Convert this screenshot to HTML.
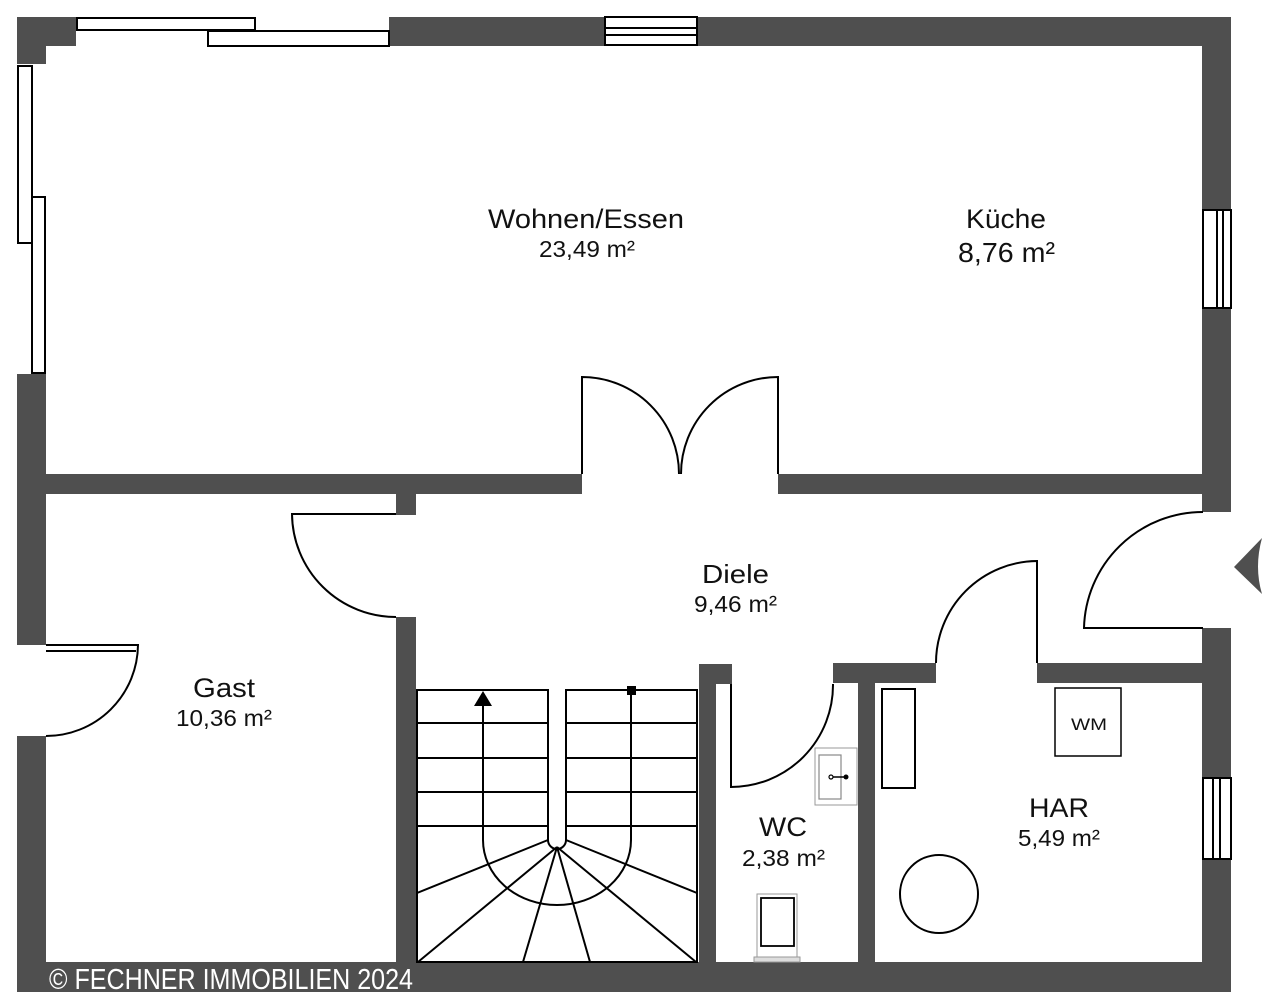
<!DOCTYPE html>
<html><head><meta charset="utf-8"><style>html,body{margin:0;padding:0;background:#fff}svg{display:block}</style></head>
<body>
<svg width="1280" height="1005" viewBox="0 0 1280 1005" xmlns="http://www.w3.org/2000/svg" font-family="Liberation Sans, Arial, sans-serif">
<g fill="#4f4f4f">
<rect x="17" y="17" width="59" height="29"/>
<rect x="17" y="17" width="29" height="47"/>
<rect x="389" y="17" width="842" height="29"/>
<rect x="1202" y="17" width="29" height="495"/>
<rect x="1202" y="628" width="29" height="364"/>
<rect x="17" y="374" width="29" height="271"/>
<rect x="17" y="736" width="29" height="256"/>
<rect x="17" y="962" width="1214" height="30"/>
<rect x="17" y="474" width="565" height="20"/>
<rect x="778" y="474" width="453" height="20"/>
<rect x="396" y="494" width="20" height="21"/>
<rect x="396" y="617" width="20" height="345"/>
<rect x="699" y="664" width="17" height="298"/>
<rect x="699" y="664" width="33" height="20"/>
<rect x="833" y="663" width="103" height="20"/>
<rect x="858" y="663" width="17" height="299"/>
<rect x="1037" y="663" width="166" height="20"/>
<path d="M1234 567 L1262 538 Q1254 567 1262 594 Z"/>
</g>
<g fill="#fff" stroke="#000" stroke-width="2">
<rect x="77" y="18" width="178" height="12"/>
<rect x="208" y="31" width="181" height="15"/>
<rect x="18" y="66" width="14" height="177"/>
<rect x="32" y="197" width="13" height="176"/>
<rect x="605" y="17" width="92" height="28"/>
<rect x="1203" y="210" width="28" height="98"/>
<rect x="1203" y="778" width="28" height="81"/>
</g>
<g fill="none" stroke="#000" stroke-width="2">
<line x1="605" y1="28" x2="697" y2="28"/><line x1="605" y1="35" x2="697" y2="35"/>
<line x1="1217" y1="210" x2="1217" y2="308"/><line x1="1223" y1="210" x2="1223" y2="308"/>
<line x1="1213" y1="778" x2="1213" y2="859"/><line x1="1220" y1="778" x2="1220" y2="859"/>
<path d="M582 474 V377 A97 97 0 0 1 679 474"/>
<path d="M778 474 V377 A97 97 0 0 0 681 474"/>
<path d="M396 514 H292 A104 104 0 0 0 396 617"/>
<path d="M46 645 H138 A92 92 0 0 1 46 736"/>
<line x1="46" y1="651" x2="136" y2="651"/>
<path d="M731 684 V787 A102 102 0 0 0 833 684"/>
<path d="M1037 663 V561 A102 102 0 0 0 936 663"/>
<path d="M1203 628 H1084 A119 119 0 0 1 1203 512"/>
<path d="M548 840 V690 H417 V962 H697 V690 H566 V840 A9 9 0 0 1 548 840"/>
<g stroke-width="2">
<line x1="417" y1="723" x2="548" y2="723"/><line x1="417" y1="758" x2="548" y2="758"/><line x1="417" y1="792" x2="548" y2="792"/><line x1="417" y1="826" x2="548" y2="826"/>
<line x1="566" y1="723" x2="697" y2="723"/><line x1="566" y1="758" x2="697" y2="758"/><line x1="566" y1="792" x2="697" y2="792"/><line x1="566" y1="826" x2="697" y2="826"/>
<line x1="548" y1="840" x2="417" y2="893"/><line x1="566" y1="840" x2="697" y2="893"/>
<line x1="557" y1="847" x2="418" y2="962"/><line x1="557" y1="847" x2="523" y2="962"/>
<line x1="557" y1="847" x2="590" y2="962"/><line x1="557" y1="847" x2="696" y2="962"/>
</g>
<path d="M483 700 V840 A74 65 0 0 0 631 840 V690"/>
<rect x="882" y="689" width="33" height="99"/>
<rect x="1055" y="688" width="66" height="68" stroke-width="1.5"/>
<circle cx="939" cy="894" r="39"/>
</g>
<path d="M483 691 L474 706 L492 706 Z" fill="#000"/>
<rect x="627" y="686" width="9" height="9" fill="#000"/>
<rect x="815" y="748" width="42" height="57" fill="#fff" stroke="#999" stroke-width="1"/>
<rect x="819" y="755" width="22" height="44" fill="none" stroke="#888" stroke-width="1.2"/>
<line x1="831" y1="777" x2="846" y2="777" stroke="#000" stroke-width="1.5"/>
<circle cx="831" cy="777" r="2" fill="#fff" stroke="#000" stroke-width="1.2"/><circle cx="846" cy="777" r="2.5" fill="#000"/>
<rect x="757" y="894" width="40" height="68" fill="#fff" stroke="#999" stroke-width="1"/>
<rect x="761" y="898" width="33" height="48" fill="none" stroke="#000" stroke-width="1.8"/>
<rect x="754" y="957" width="46" height="5" fill="#ddd" stroke="#999" stroke-width="1"/>
<g fill="#111" text-anchor="start">
<text x="488" y="228" font-size="27" textLength="196" lengthAdjust="spacingAndGlyphs">Wohnen/Essen</text>
<text x="539" y="257" font-size="23" textLength="96" lengthAdjust="spacingAndGlyphs">23,49 m²</text>
<text x="966" y="228" font-size="27" textLength="80" lengthAdjust="spacingAndGlyphs">Küche</text>
<text x="958" y="262" font-size="28" textLength="97" lengthAdjust="spacingAndGlyphs">8,76 m²</text>
<text x="702" y="583" font-size="26" textLength="67" lengthAdjust="spacingAndGlyphs">Diele</text>
<text x="694" y="612" font-size="23" textLength="83" lengthAdjust="spacingAndGlyphs">9,46 m²</text>
<text x="193" y="697" font-size="27" textLength="62" lengthAdjust="spacingAndGlyphs">Gast</text>
<text x="176" y="726" font-size="23" textLength="96" lengthAdjust="spacingAndGlyphs">10,36 m²</text>
<text x="759" y="836" font-size="27" textLength="48" lengthAdjust="spacingAndGlyphs">WC</text>
<text x="742" y="866" font-size="23" textLength="83" lengthAdjust="spacingAndGlyphs">2,38 m²</text>
<text x="1029" y="817" font-size="27" textLength="60" lengthAdjust="spacingAndGlyphs">HAR</text>
<text x="1018" y="846" font-size="23" textLength="82" lengthAdjust="spacingAndGlyphs">5,49 m²</text>
<text x="1071" y="730" font-size="17" textLength="36" lengthAdjust="spacingAndGlyphs">WM</text>
</g>
<text x="49" y="989" font-size="29" fill="#fff" textLength="364" lengthAdjust="spacingAndGlyphs">© FECHNER IMMOBILIEN 2024</text>
</svg>
</body></html>
